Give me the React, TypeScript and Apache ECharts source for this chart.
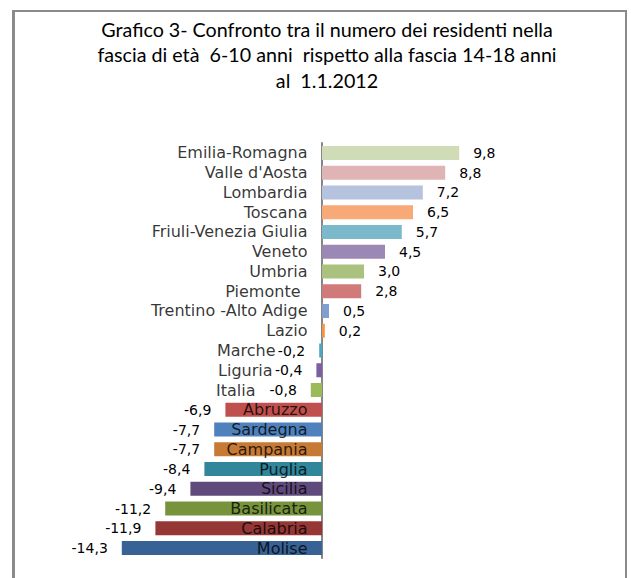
import React, { useEffect, useRef } from "react";
import * as echarts from "echarts";

const categories = [
  "Emilia-Romagna", "Valle d'Aosta", "Lombardia", "Toscana", "Friuli-Venezia Giulia",
  "Veneto", "Umbria", "Piemonte", "Trentino -Alto Adige", "Lazio", "Marche", "Liguria",
  "Italia", "Abruzzo", "Sardegna", "Campania", "Puglia", "Sicilia", "Basilicata",
  "Calabria", "Molise",
];
const values = [9.8, 8.8, 7.2, 6.5, 5.7, 4.5, 3.0, 2.8, 0.5, 0.2, -0.2, -0.4, -0.8, -6.9, -7.7, -7.7, -8.4, -9.4, -11.2, -11.9, -14.3];
const colors = [
  "#cfdcb6", "#e0b4b4", "#b5c3de", "#f7aa78", "#7bb8cc", "#9c88b5", "#abc27f",
  "#d07b79", "#7f9fd0", "#f49446", "#4aa7c0", "#7b5fa0", "#9bbb59", "#c0504d",
  "#4f81bd", "#c67a35", "#31869b", "#604a7b", "#77933c", "#953735", "#386195",
];
const titleLines = [
  "Grafico 3- Confronto tra il numero dei residenti nella",
  "fascia di età  6-10 anni  rispetto alla fascia 14-18 anni",
  "al  1.1.2012",
];

export default function App() {
  const ref = useRef<HTMLDivElement>(null);
  useEffect(() => {
    document.body.style.margin = "0";
    const chart = echarts.init(ref.current!, null, { renderer: "svg" });
    const shift: Record<string, string> = { "Marche": "s1", "Liguria": "s2", "Italia": "s3", "Piemonte": "s4" };
    const lab = { fontFamily: "DejaVu Sans", fontSize: 16, color: "#000" };
    chart.setOption({
      animation: false,
      backgroundColor: "#ffffff",
      grid: { left: 112, right: 99, top: 143, bottom: 20, containLabel: false, outerBoundsMode: "none" },
      xAxis: {
        type: "value", min: -15, max: 15, show: false,
        splitLine: { show: false },
      },
      yAxis: {
        type: "category",
        data: categories,
        inverse: true,
        offset: -210,
        axisLine: { show: true, onZero: false, lineStyle: { color: "#868686", width: 2 } },
        axisTick: { show: false },
        splitLine: { show: false },
        axisLabel: { show: false },
      },
      series: [
        {
          type: "bar",
          barWidth: 14,
          data: values.map((v, i) => ({
            value: v,
            itemStyle: { color: colors[i] },
            label: { position: v < 0 ? "left" : "right" },
          })),
          label: {
            show: true,
            distance: 14,
            fontFamily: "DejaVu Sans",
            fontSize: 14,
            color: "#000",
            formatter: (p: any) => p.value.toFixed(1).replace(".", ","),
          },
        },
        {
          type: "scatter",
          silent: true,
          symbolSize: 1,
          itemStyle: { color: "transparent" },
          data: categories.map((c) => [0, c]),
          z: 5,
          label: {
            show: true,
            position: "left",
            distance: 14,
            ...lab,
            formatter: (p: any) => {
              const v = p.data[1];
              return shift[v] ? `{${shift[v]}|${v}}` : v;
            },
            rich: {
              s1: { ...lab, padding: [0, 32, 0, 0] },
              s2: { ...lab, padding: [0, 35, 0, 0] },
              s3: { ...lab, padding: [0, 52, 0, 0] },
              s4: { ...lab, padding: [0, 7, 0, 0] },
            },
          },
        },
      ],
      graphic: [
        { type: "line", shape: { x1: 13.5, y1: 10, x2: 13.5, y2: 578 }, style: { stroke: "#8a8a8a", lineWidth: 3 } },
        { type: "line", shape: { x1: 12, y1: 11, x2: 627, y2: 11 }, style: { stroke: "#8a8a8a", lineWidth: 2 } },
        { type: "line", shape: { x1: 626, y1: 10, x2: 626, y2: 578 }, style: { stroke: "#8a8a8a", lineWidth: 2 } },
        {
          type: "text",
          x: 327,
          y: 16.5,
          style: {
            text: titleLines.join("\n"),
            textAlign: "center",
            textVerticalAlign: "top",
            font: "19.7px Lato",
            lineHeight: 25.5,
            fill: "#000",
          },
        },
      ],
    });
    return () => chart.dispose();
  }, []);
  return <div ref={ref} style={{ width: 631, height: 578 }} />;
}
